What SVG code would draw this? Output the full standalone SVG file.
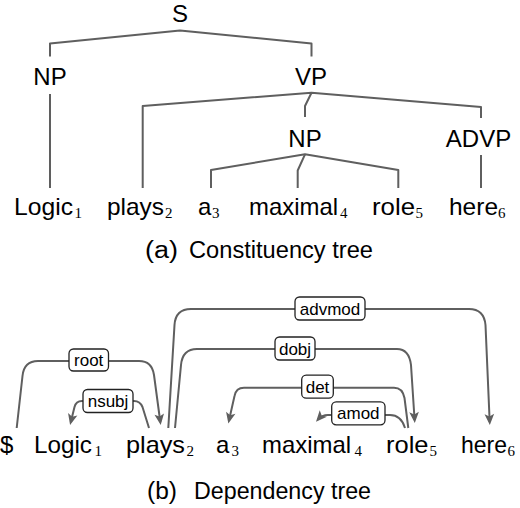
<svg xmlns="http://www.w3.org/2000/svg" width="520" height="508" viewBox="0 0 520 508">
<defs>
<style>
text{font-family:"Liberation Sans",Arial,Helvetica,sans-serif;fill:#000}
.w{font-size:24px}
.cap{font-size:23.5px}
.sub{font-family:"Liberation Serif","Times New Roman",serif;font-size:15px}
.lbl{font-size:17px;text-anchor:middle}
.tl{fill:none;stroke:#5f5f5f;stroke-width:2;stroke-linejoin:round}
.dl{fill:none;stroke:#5f5f5f;stroke-width:2;marker-end:url(#ah)}
.box{fill:#fff;stroke:#222;stroke-width:1.3}
.c{text-anchor:middle}
</style>
<marker id="ah" markerUnits="userSpaceOnUse" markerWidth="14" markerHeight="12" viewBox="0 -6 13 12" refX="8" refY="0" orient="auto">
<path d="M0,-4.8 L11,0 L0,4.8 L2.5,0 Z" fill="#5f5f5f"/>
</marker>
</defs>
<rect width="520" height="508" fill="#fff"/>

<g id="connectors">
  <g id="constituency-edges">
    <path class="tl" d="M50,56.5 V43.5 L180,30.5 L311.5,43.5 V56.5"/>
    <path class="tl" d="M50,94 V188"/>
    <path class="tl" d="M142.7,188 V106 L311.5,92.7 L481,107 V118"/>
    <path class="tl" d="M311.5,92.7 L305,106 V117"/>
    <path class="tl" d="M211,188 V170 L305,154.3 L398.3,170 V188"/>
    <path class="tl" d="M305,154.3 L297.7,170.5 V188"/>
    <path class="tl" d="M481,155 V188"/>
  </g>
  <g id="dep-root">
    <path class="dl" d="M16.7,428 L22.5,376 Q24,361 38,361 H139 Q152,361 154,375 L160.3,422"/>
    <rect class="box" x="69" y="349" width="39.5" height="22" rx="4.5"/>
    <text class="lbl" x="88.7" y="366">root</text>
  </g>
  <g id="dep-nsubj">
    <path class="dl" d="M149,428 L142.5,407 Q140,401 134,401 H82 Q76,401 74.5,407 L70.8,422"/>
    <rect class="box" x="83" y="389.5" width="50" height="23" rx="4.5"/>
    <text class="lbl" x="108" y="406.5">nsubj</text>
  </g>
  <g id="dep-advmod">
    <path class="dl" d="M168.3,428 L174.5,325 Q175.5,309 191,309 H469 Q484,309 485.5,325 L489.7,422"/>
    <rect class="box" x="295" y="297" width="70" height="23" rx="4.5"/>
    <text class="lbl" x="330" y="314.5">advmod</text>
  </g>
  <g id="dep-dobj">
    <path class="dl" d="M175,428 L181,365 Q182.5,349 197,349 H397 Q409,349 411,365 L414.6,420"/>
    <rect class="box" x="275" y="337" width="40" height="23" rx="4.5"/>
    <text class="lbl" x="295" y="354.5">dobj</text>
  </g>
  <g id="dep-det">
    <path class="dl" d="M408.3,428 L404.5,398 Q402.5,387.7 394,387.7 H244 Q236,387.7 234.5,396 L229,420.5"/>
    <rect class="box" x="301.7" y="375.2" width="31.6" height="23" rx="4.5"/>
    <text class="lbl" x="317.5" y="392.5">det</text>
  </g>
  <g id="dep-amod">
    <path class="dl" d="M405,428 Q401,415 390,415 H328 Q322,415 318,419.5"/>
    <rect class="box" x="331.7" y="401.8" width="53.3" height="23" rx="4.5"/>
    <text class="lbl" x="358.3" y="419">amod</text>
  </g>
</g>

<g id="n-S"><text class="w c" x="180" y="22">S</text></g>
<g id="n-NP1"><text class="w c" x="50" y="85">NP</text></g>
<g id="n-VP"><text class="w c" x="311" y="85">VP</text></g>
<g id="n-NP2"><text class="w c" x="305" y="146.5">NP</text></g>
<g id="n-ADVP"><text class="w c" x="478.5" y="146.5">ADVP</text></g>

<g id="t-Logic"><text class="w" x="14" y="215" textLength="59" lengthAdjust="spacingAndGlyphs">Logic</text><text class="sub" x="74.5" y="218">1</text></g>
<g id="t-plays"><text class="w" x="107" y="215" textLength="57" lengthAdjust="spacingAndGlyphs">plays</text><text class="sub" x="165" y="218">2</text></g>
<g id="t-a"><text class="w" x="198" y="215">a</text><text class="sub" x="212" y="218">3</text></g>
<g id="t-maximal"><text class="w" x="249" y="215" textLength="89" lengthAdjust="spacingAndGlyphs">maximal</text><text class="sub" x="340" y="218">4</text></g>
<g id="t-role"><text class="w" x="372" y="215" textLength="43" lengthAdjust="spacingAndGlyphs">role</text><text class="sub" x="415.5" y="218">5</text></g>
<g id="t-here"><text class="w" x="449" y="215" textLength="49" lengthAdjust="spacingAndGlyphs">here</text><text class="sub" x="498" y="218">6</text></g>

<g id="cap-a"><text class="cap" x="145" y="258" textLength="33" lengthAdjust="spacingAndGlyphs">(a)</text><text class="cap" x="189" y="258" textLength="184" lengthAdjust="spacingAndGlyphs">Constituency tree</text></g>

<g id="d-root"><text class="w" x="0" y="453">$</text></g>
<g id="d-Logic"><text class="w" x="34" y="453" textLength="58" lengthAdjust="spacingAndGlyphs">Logic</text><text class="sub" x="94.5" y="456">1</text></g>
<g id="d-plays"><text class="w" x="126" y="453" textLength="59" lengthAdjust="spacingAndGlyphs">plays</text><text class="sub" x="186.5" y="456">2</text></g>
<g id="d-a"><text class="w" x="216" y="453">a</text><text class="sub" x="231.5" y="456">3</text></g>
<g id="d-maximal"><text class="w" x="262" y="453" textLength="89" lengthAdjust="spacingAndGlyphs">maximal</text><text class="sub" x="354.5" y="456">4</text></g>
<g id="d-role"><text class="w" x="386" y="453" textLength="42.5" lengthAdjust="spacingAndGlyphs">role</text><text class="sub" x="429.5" y="456">5</text></g>
<g id="d-here"><text class="w" x="461" y="453" textLength="46" lengthAdjust="spacingAndGlyphs">here</text><text class="sub" x="507.5" y="456">6</text></g>

<g id="cap-b"><text class="cap" x="147" y="499" textLength="30" lengthAdjust="spacingAndGlyphs">(b)</text><text class="cap" x="194" y="499" textLength="177" lengthAdjust="spacingAndGlyphs">Dependency tree</text></g>
</svg>
